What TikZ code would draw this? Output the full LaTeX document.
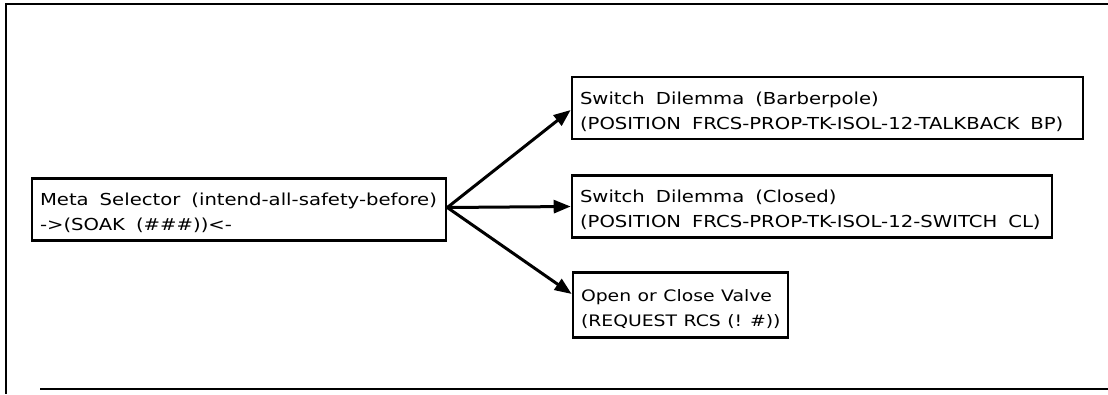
\documentclass[tikz,border=0pt]{standalone}
\usepackage{fontspec}
\setmainfont{DejaVu Sans}[FakeStretch=1.19]
\usetikzlibrary{arrows.meta}
\begin{document}
\begin{tikzpicture}[x=1pt,y=-1pt,
  box/.style={draw,line width=2.6pt,inner xsep=8pt,inner ysep=0pt,
    align=left,anchor=center,text height=27pt,text depth=35pt,
    font=\fontsize{16.5}{25}\selectfont},
  link/.style={line width=3pt,-{Triangle[length=17pt,width=13pt]}},
  frame/.style={line width=2.2pt}]
\useasboundingbox (0,0) rectangle (1108,394);
% outer frame, open on the right
\draw[frame] (1108,4) -- (6,4) -- (6,394);
\draw[frame] (40,389) -- (1108,389);
% boxes
\node[box,minimum width=414pt,text width=398pt] (meta) at (239,209.5)
  {Meta\ \ Selector\ \ (intend-all-safety-before)\\->(SOAK\ \ (\#\#\#))<-};
\node[box,minimum width=511pt,text width=495pt] (bp) at (827.5,108)
  {Switch\ \ Dilemma\ \ (Barberpole)\\(POSITION\ \ FRCS-PROP-TK-ISOL-12-TALKBACK\ \ BP)};
\node[box,minimum width=480pt,text width=464pt] (cl) at (812,206.5)
  {Switch\ \ Dilemma\ \ (Closed)\\(POSITION\ \ FRCS-PROP-TK-ISOL-12-SWITCH\ \ CL)};
\node[box,minimum width=215pt,text width=199pt,text height=29pt,text depth=36pt,
  font=\fontsize{15.8}{25}\selectfont] (valve) at (680.5,305)
  {\spaceskip=6.5pt\relax \mbox{Open or Close Valve}\\\mbox{(REQUEST RCS (! \#))}};
% connectors
\coordinate (fork) at ([yshift=2pt]meta.east);
\draw[link] (fork) -- ([yshift=-2pt]bp.west);
\draw[link] (fork) -- (cl.west);
\draw[link] (fork) -- ([yshift=11pt]valve.west);
\end{tikzpicture}
\end{document}
